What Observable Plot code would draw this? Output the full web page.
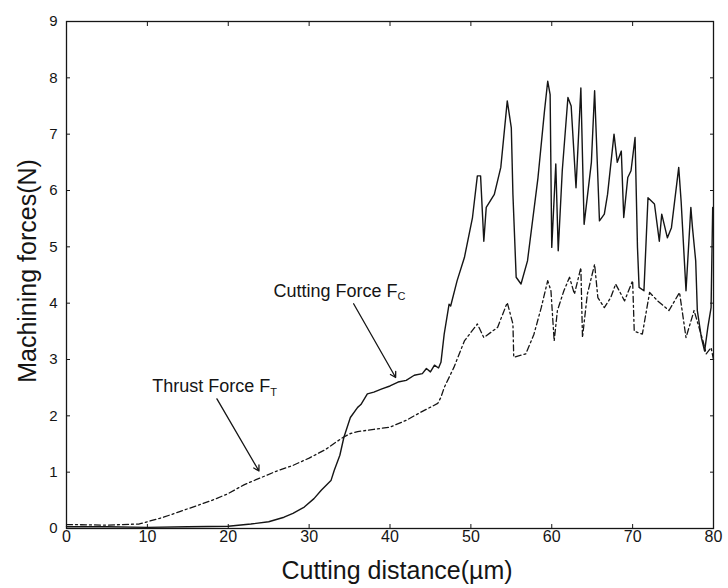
<!DOCTYPE html>
<html>
<head>
<meta charset="utf-8">
<script src="https://cdn.jsdelivr.net/npm/d3@7"></script>
<script src="https://cdn.jsdelivr.net/npm/@observablehq/plot@0.6"></script>
<style>
  html, body { margin: 0; padding: 0; background: #fff; }
  #chart svg { display: block; }
</style>
</head>
<body>
<div id="chart"></div>
<script>
// Cutting force Fc (solid) versus cutting distance
const fcDistance = [0, 5, 10, 15, 20, 22.8, 25, 26.9, 28, 29.4, 30.6, 31.5, 32.7, 33.1, 33.8, 34.3, 35.1, 36, 36.4, 37.2, 38, 39, 40, 41, 42, 43, 44, 44.5, 45, 45.5, 46, 46.3, 46.7, 47.3, 47.5, 48.3, 49.2, 50.2, 50.8, 51.2, 51.6, 51.9, 52.9, 53.7, 54.5, 55, 55.2, 55.6, 56.2, 57, 58.3, 59.1, 59.5, 59.8, 60, 60.5, 60.8, 61.3, 62, 62.4, 63, 63.6, 64, 64.9, 65.3, 65.9, 66.5, 66.9, 67.7, 68.1, 68.6, 68.9, 69.4, 69.8, 70.3, 70.6, 70.8, 71.4, 71.9, 72.7, 73.3, 73.6, 74.3, 74.8, 75.7, 76, 76.6, 77.2, 77.4, 77.8, 78, 78.5, 78.9, 79.3, 79.7, 79.9];
const fcForce = [0.03, 0.03, 0.02, 0.03, 0.04, 0.08, 0.12, 0.2, 0.27, 0.38, 0.53, 0.68, 0.85, 1.03, 1.3, 1.62, 1.97, 2.15, 2.2, 2.39, 2.42, 2.48, 2.53, 2.6, 2.63, 2.72, 2.75, 2.84, 2.78, 2.9, 2.85, 2.95, 3.45, 3.98, 3.95, 4.4, 4.81, 5.52, 6.26, 6.26, 5.1, 5.7, 5.93, 6.41, 7.59, 7.11, 5.93, 4.46, 4.34, 4.75, 6.23, 7.41, 7.94, 7.7, 4.99, 6.47, 4.93, 6.35, 7.65, 7.5, 6.05, 7.82, 5.4, 6.5, 7.77, 5.46, 5.58, 5.93, 7.0, 6.5, 6.7, 5.52, 6.23, 6.35, 6.94, 4.99, 4.28, 4.22, 5.87, 5.76, 5.1, 5.58, 5.16, 5.34, 6.41, 5.8, 4.22, 5.7, 5.34, 4.75, 3.87, 3.39, 3.15, 3.57, 3.92, 5.7];

// Thrust force Ft (dash-dot) versus cutting distance
const ftDistance = [0, 5, 9, 10, 12, 14, 16, 18, 20, 22, 24, 26, 28, 30, 32, 34, 35, 36, 38, 40, 42, 44, 45.9, 46.3, 46.7, 47.9, 49.2, 50.8, 51.6, 53.3, 54.5, 55.2, 55.3, 56.8, 57.8, 58.7, 59.5, 59.9, 60.3, 60.7, 61.5, 62.2, 62.8, 63.6, 63.8, 64.4, 65.3, 65.7, 66.5, 67.3, 67.9, 69, 70, 70.2, 71.2, 72.1, 73.1, 74.5, 75.8, 76.6, 77.6, 78.7, 79.1, 79.7, 80];
const ftForce = [0.07, 0.06, 0.08, 0.12, 0.2, 0.3, 0.4, 0.5, 0.62, 0.78, 0.9, 1.02, 1.12, 1.25, 1.4, 1.6, 1.68, 1.72, 1.76, 1.8, 1.92, 2.08, 2.22, 2.33, 2.5, 2.86, 3.33, 3.63, 3.39, 3.57, 4.01, 3.63, 3.04, 3.1, 3.45, 3.92, 4.4, 4.22, 3.33, 3.87, 4.22, 4.46, 4.16, 4.63, 3.39, 4.16, 4.69, 4.1, 3.92, 4.1, 4.34, 4.04, 4.4, 3.5, 3.45, 4.19, 4.04, 3.87, 4.19, 3.39, 3.87, 3.33, 3.1, 3.21, 3.0];

// Axis ticks
const xTicks = [0, 10, 20, 30, 40, 50, 60, 70, 80];
const yTicks = [0, 1, 2, 3, 4, 5, 6, 7, 8, 9];

// Callout labels and their pointer arrows
const labelNames = ["Cutting Force F", "Thrust Force F"];
const labelSubscripts = ["C", "T"];
const labelX = [25.6, 10.6];
const labelY = [4.21, 2.52];
const arrowX1 = [35.5, 18.6];
const arrowY1 = [3.99, 2.30];
const arrowX2 = [40.7, 23.8];
const arrowY2 = [2.68, 1.02];

const fc = fcDistance.map((d, i) => ({distance: d, force: fcForce[i]}));
const ft = ftDistance.map((d, i) => ({distance: d, force: ftForce[i]}));
const labels = labelNames.map((t, i) => ({text: t, x: labelX[i], y: labelY[i]}));
const arrows = arrowX1.map((x, i) => ({x1: x, y1: arrowY1[i], x2: arrowX2[i], y2: arrowY2[i]}));

const ink = "#151515";
const font = "'Liberation Sans', Arial, Helvetica, sans-serif";

const chart = Plot.plot({
  width: 728,
  height: 588,
  marginLeft: 66,
  marginRight: 15,
  marginTop: 21,
  marginBottom: 60,
  style: {fontFamily: font, color: ink, background: "#fff"},
  x: {domain: [0, 80]},
  y: {domain: [0, 9]},
  marks: [
    Plot.axisX({ticks: xTicks, anchor: "bottom", tickSize: -4, tickPadding: 6, fontSize: 16, label: null}),
    Plot.axisX({ticks: xTicks, anchor: "top", tickSize: -4, tickFormat: () => "", label: null}),
    Plot.axisY({ticks: yTicks, anchor: "left", tickSize: -4, tickPadding: 13, fontSize: 15, label: null}),
    Plot.axisY({ticks: yTicks, anchor: "right", tickSize: -4, tickFormat: () => "", label: null}),
    Plot.frame({stroke: ink, strokeWidth: 1.3}),
    Plot.line(ft, {x: "distance", y: "force", stroke: ink, strokeWidth: 1.3, strokeDasharray: "6,3,2,3"}),
    Plot.line(fc, {x: "distance", y: "force", stroke: ink, strokeWidth: 1.4}),
    Plot.arrow(arrows, {x1: "x1", y1: "y1", x2: "x2", y2: "y2", stroke: ink, strokeWidth: 1.3, headLength: 7}),
    Plot.text(labels, {x: "x", y: "y", text: "text", textAnchor: "start", fontSize: 18, fill: ink, className: "force-label"}),
    Plot.text(["Cutting distance(\u00b5m)"], {frameAnchor: "bottom", textAnchor: "middle", lineAnchor: "middle", dx: 7, dy: 42, fontSize: 25, fill: ink}),
    Plot.text(["Machining forces(N)"], {frameAnchor: "left", textAnchor: "middle", lineAnchor: "middle", rotate: -90, dx: -39, dy: -4, fontSize: 25, fill: ink})
  ]
});

// Add the subscript after each "F" in the callout labels
d3.select(chart).selectAll(".force-label text").each(function () {
  const el = d3.select(this);
  const idx = labelNames.indexOf(this.textContent);
  if (idx >= 0) {
    el.append("tspan").attr("dy", "0.3em").attr("font-size", 11).text(labelSubscripts[idx]);
  }
});

document.getElementById("chart").appendChild(chart);
</script>
</body>
</html>
